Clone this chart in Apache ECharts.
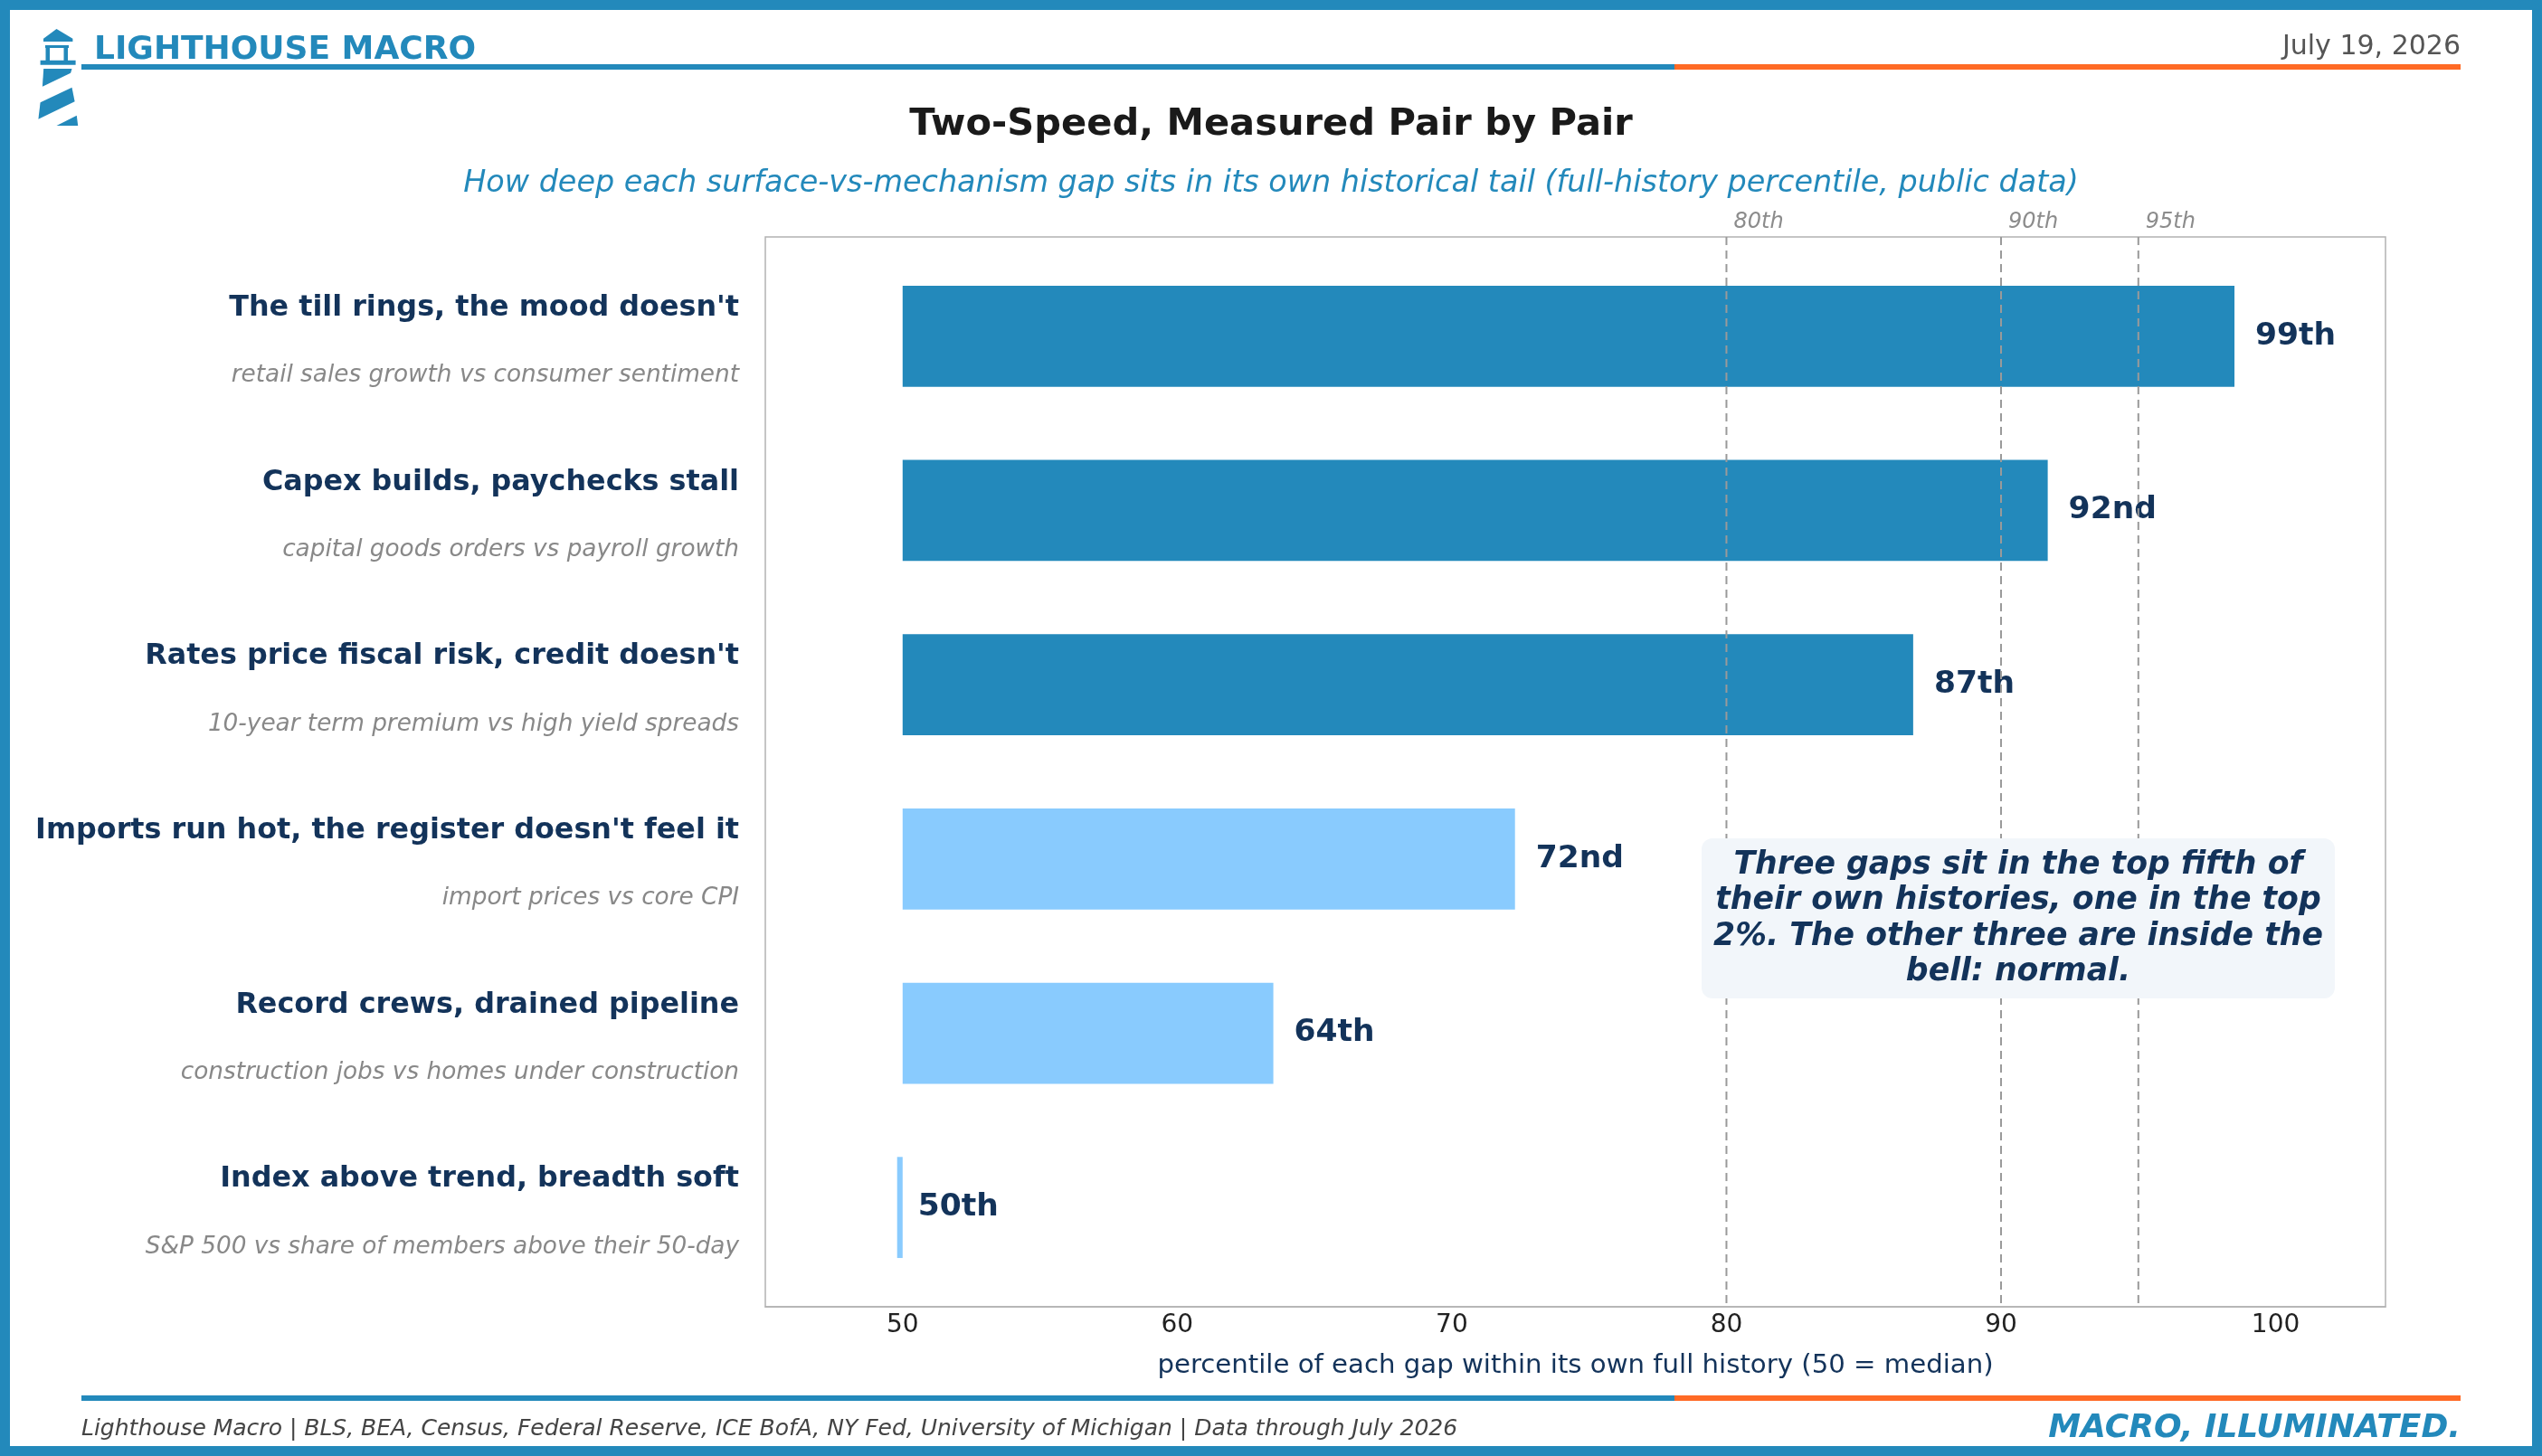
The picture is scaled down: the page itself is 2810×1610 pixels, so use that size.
<!DOCTYPE html>
<html>
<head>
<meta charset="utf-8">
<title>Two-Speed, Measured Pair by Pair</title>
<script src="https://cdn.jsdelivr.net/npm/echarts@6/dist/echarts.min.js"></script>
<style>
    html, body { margin: 0; padding: 0; background: #ffffff; }
    #chart { width: 2810px; height: 1610px; }
</style>
</head>
<body>
<div id="chart"></div>
<script>
//==================== data ====================
var pairTitles = [
    "The till rings, the mood doesn't",
    "Capex builds, paychecks stall",
    "Rates price fiscal risk, credit doesn't",
    "Imports run hot, the register doesn't feel it",
    "Record crews, drained pipeline",
    "Index above trend, breadth soft"
];
var pairSubtitles = [
    "retail sales growth vs consumer sentiment",
    "capital goods orders vs payroll growth",
    "10-year term premium vs high yield spreads",
    "import prices vs core CPI",
    "construction jobs vs homes under construction",
    "S&P 500 vs share of members above their 50-day"
];
var percentiles = [98.5, 91.7, 86.8, 72.3, 63.5, 49.8];
var percentileLabels = ["99th", "92nd", "87th", "72nd", "64th", "50th"];
var refLines = [80, 90, 95];
var xTicks = [50, 60, 70, 80, 90, 100];

//==================== style ====================
var FONT = '"DejaVu Sans", "Noto Sans", sans-serif';
var BLUE = '#2389BB';
var LIGHT = '#89CBFE';
var ORANGE = '#FF6A25';
var NAVY = '#13335A';
var BAR_BASE = 50;     // bars grow out of the median
var BAR_HALF = 0.29;   // half bar height, in category units
var Y_MIN = -0.57, Y_MAX = 5.57;

//柱子（从 50 出发）
function renderBar(params, api) {
    var v = api.value(0);
    var i = api.value(1);
    var a = api.coord([BAR_BASE, i - BAR_HALF]);
    var b = api.coord([v, i + BAR_HALF]);
    var mid = api.coord([v, i]);
    return {
        type: 'group',
        children: [{
            type: 'rect',
            shape: {
                x: Math.min(a[0], b[0]),
                y: Math.min(a[1], b[1]),
                width: Math.abs(b[0] - a[0]),
                height: Math.abs(b[1] - a[1])
            },
            style: { fill: v >= 80 ? BLUE : LIGHT }
        }, {
            type: 'text',
            style: {
                text: percentileLabels[i],
                x: mid[0] + 23,
                y: mid[1],
                font: 'bold 34.5px ' + FONT,
                fill: NAVY,
                align: 'left', textAlign: 'left',
                verticalAlign: 'middle', textVerticalAlign: 'middle'
            }
        }]
    };
}

//参考虚线 80 / 90 / 95
function renderRef(params, api) {
    var v = api.value(0);
    var top = api.coord([v, Y_MIN]);
    var bot = api.coord([v, Y_MAX]);
    return {
        type: 'line',
        shape: { x1: top[0], y1: top[1], x2: bot[0], y2: bot[1] },
        style: { stroke: '#9a9a9a', lineWidth: 2, lineDash: [9, 6] }
    };
}

function txt(x, y, text, font, fill, align) {
    return {
        type: 'text', x: x, y: y, z: 20,
        style: {
            text: text, font: font, fill: fill,
            align: align, textAlign: align,
            verticalAlign: 'middle', textVerticalAlign: 'middle'
        }
    };
}

function poly(points) {
    return { type: 'polygon', z: 20, shape: { points: points }, style: { fill: BLUE } };
}

var graphics = [
    // frame
    { type: 'rect', z: 30, shape: { x: 5.5, y: 5.5, width: 2799, height: 1599 },
      style: { fill: 'none', stroke: BLUE, lineWidth: 11 } },
    // lighthouse logo
    poly([[48, 46], [48, 42.7], [62.5, 32], [80.4, 42.7], [80.4, 46]]),
    { type: 'rect', z: 20, shape: { x: 50, y: 50, width: 26, height: 3 }, style: { fill: BLUE } },
    { type: 'rect', z: 20, shape: { x: 50.5, y: 50, width: 4.5, height: 17 }, style: { fill: BLUE } },
    { type: 'rect', z: 20, shape: { x: 70.5, y: 50, width: 4.5, height: 17 }, style: { fill: BLUE } },
    { type: 'rect', z: 20, shape: { x: 44.6, y: 66.7, width: 39, height: 5 }, style: { fill: BLUE } },
    poly([[48.2, 76], [79.5, 76], [78.1, 80.7], [46.9, 95.7]]),
    poly([[44.6, 113.3], [79.5, 96.7], [82.6, 112.3], [42.4, 131.7]]),
    poly([[62.5, 139], [84.8, 127.7], [86.2, 139]]),
    // header
    txt(104, 56, 'LIGHTHOUSE MACRO', 'bold 36px ' + FONT, BLUE, 'left'),
    txt(2720, 52, 'July 19, 2026', '30px ' + FONT, '#555555', 'right'),
    { type: 'rect', z: 20, shape: { x: 90, y: 71, width: 1761, height: 6 }, style: { fill: BLUE } },
    { type: 'rect', z: 20, shape: { x: 1851, y: 71, width: 869, height: 6 }, style: { fill: ORANGE } },
    txt(1405, 138, 'Two-Speed, Measured Pair by Pair', 'bold 41.6px ' + FONT, '#1a1a1a', 'center'),
    txt(1405, 203, 'How deep each surface-vs-mechanism gap sits in its own historical tail (full-history percentile, public data)',
        'italic 33.4px ' + FONT, BLUE, 'center'),
    // footer
    { type: 'rect', z: 20, shape: { x: 90, y: 1543, width: 1761, height: 6 }, style: { fill: BLUE } },
    { type: 'rect', z: 20, shape: { x: 1851, y: 1543, width: 869, height: 6 }, style: { fill: ORANGE } },
    txt(90, 1580, 'Lighthouse Macro | BLS, BEA, Census, Federal Reserve, ICE BofA, NY Fed, University of Michigan | Data through July 2026',
        'italic 25px ' + FONT, '#444444', 'left'),
    txt(2720, 1580, 'MACRO, ILLUMINATED.', 'italic bold 36px ' + FONT, BLUE, 'right'),
    // annotation
    { type: 'rect', z: 20, shape: { x: 1881, y: 927, width: 700, height: 177, r: 12 }, style: { fill: '#F2F6FA' } },
    {
        type: 'text', x: 2231, y: 1016, z: 21,
        style: {
            text: 'Three gaps sit in the top fifth of\ntheir own histories, one in the top\n2%. The other three are inside the\nbell: normal.',
            font: 'italic bold 34.7px ' + FONT, fill: NAVY, lineHeight: 39.5,
            align: 'center', textAlign: 'center',
            verticalAlign: 'middle', textVerticalAlign: 'middle'
        }
    }
];

var chart = echarts.init(document.getElementById('chart'));
var option = {
    backgroundColor: '#ffffff',
    animation: false,
    textStyle: { fontFamily: FONT },
    grid: {
        left: 846, right: 173, top: 262, bottom: 165,
        show: true, borderColor: '#b3b3b3', borderWidth: 1.5
    },
    xAxis: [{
        type: 'value', min: 45, max: 104, position: 'bottom',
        axisLine: { show: true, onZero: false, lineStyle: { color: '#b3b3b3', width: 1.5 } },
        axisTick: { show: false },
        splitLine: { show: false },
        axisLabel: {
            customValues: xTicks, color: '#222222', fontSize: 28, fontFamily: FONT,
            margin: 21, verticalAlign: 'middle'
        },
        name: 'percentile of each gap within its own full history (50 = median)',
        nameLocation: 'middle', nameGap: 65,
        nameTextStyle: { color: NAVY, fontSize: 29.2, fontFamily: FONT, verticalAlign: 'middle' }
    }, {
        type: 'value', min: 45, max: 104, position: 'top',
        axisLine: { show: false, onZero: false }, axisTick: { show: false }, splitLine: { show: false },
        axisLabel: {
            customValues: refLines,
            formatter: function (v) { return v + 'th'; },
            color: '#8c8c8c', fontStyle: 'italic', fontSize: 24, fontFamily: FONT,
            align: 'left', padding: [0, 0, 0, 8], margin: 16, verticalAlign: 'middle'
        }
    }],
    yAxis: {
        type: 'value', inverse: true, min: Y_MIN, max: Y_MAX,
        axisLine: { show: false, onZero: false }, axisTick: { show: false }, splitLine: { show: false },
        axisLabel: {
            customValues: [0, 1, 2, 3, 4, 5],
            margin: 29,
            formatter: function (v) {
                var i = Math.round(v);
                return '{t|' + pairTitles[i] + '}\n{s|' + pairSubtitles[i] + '}';
            },
            rich: {
                t: { fontSize: 31.8, fontWeight: 'bold', color: NAVY, fontFamily: FONT, lineHeight: 87, align: 'right' },
                s: { fontSize: 26.3, fontStyle: 'italic', color: '#888888', fontFamily: FONT, lineHeight: 62, align: 'right' }
            }
        }
    },
    series: [{
        type: 'custom',
        name: 'percentile',
        z: 2,
        renderItem: renderBar,
        encode: { x: 0, y: 1 },
        data: percentiles.map(function (v, i) { return [v, i]; })
    }, {
        type: 'custom',
        name: 'reference',
        z: 3,
        silent: true,
        renderItem: renderRef,
        encode: { x: 0, y: 1 },
        data: refLines.map(function (v) { return [v, 0]; })
    }],
    graphic: graphics
};
chart.setOption(option);
</script>
</body>
</html>
